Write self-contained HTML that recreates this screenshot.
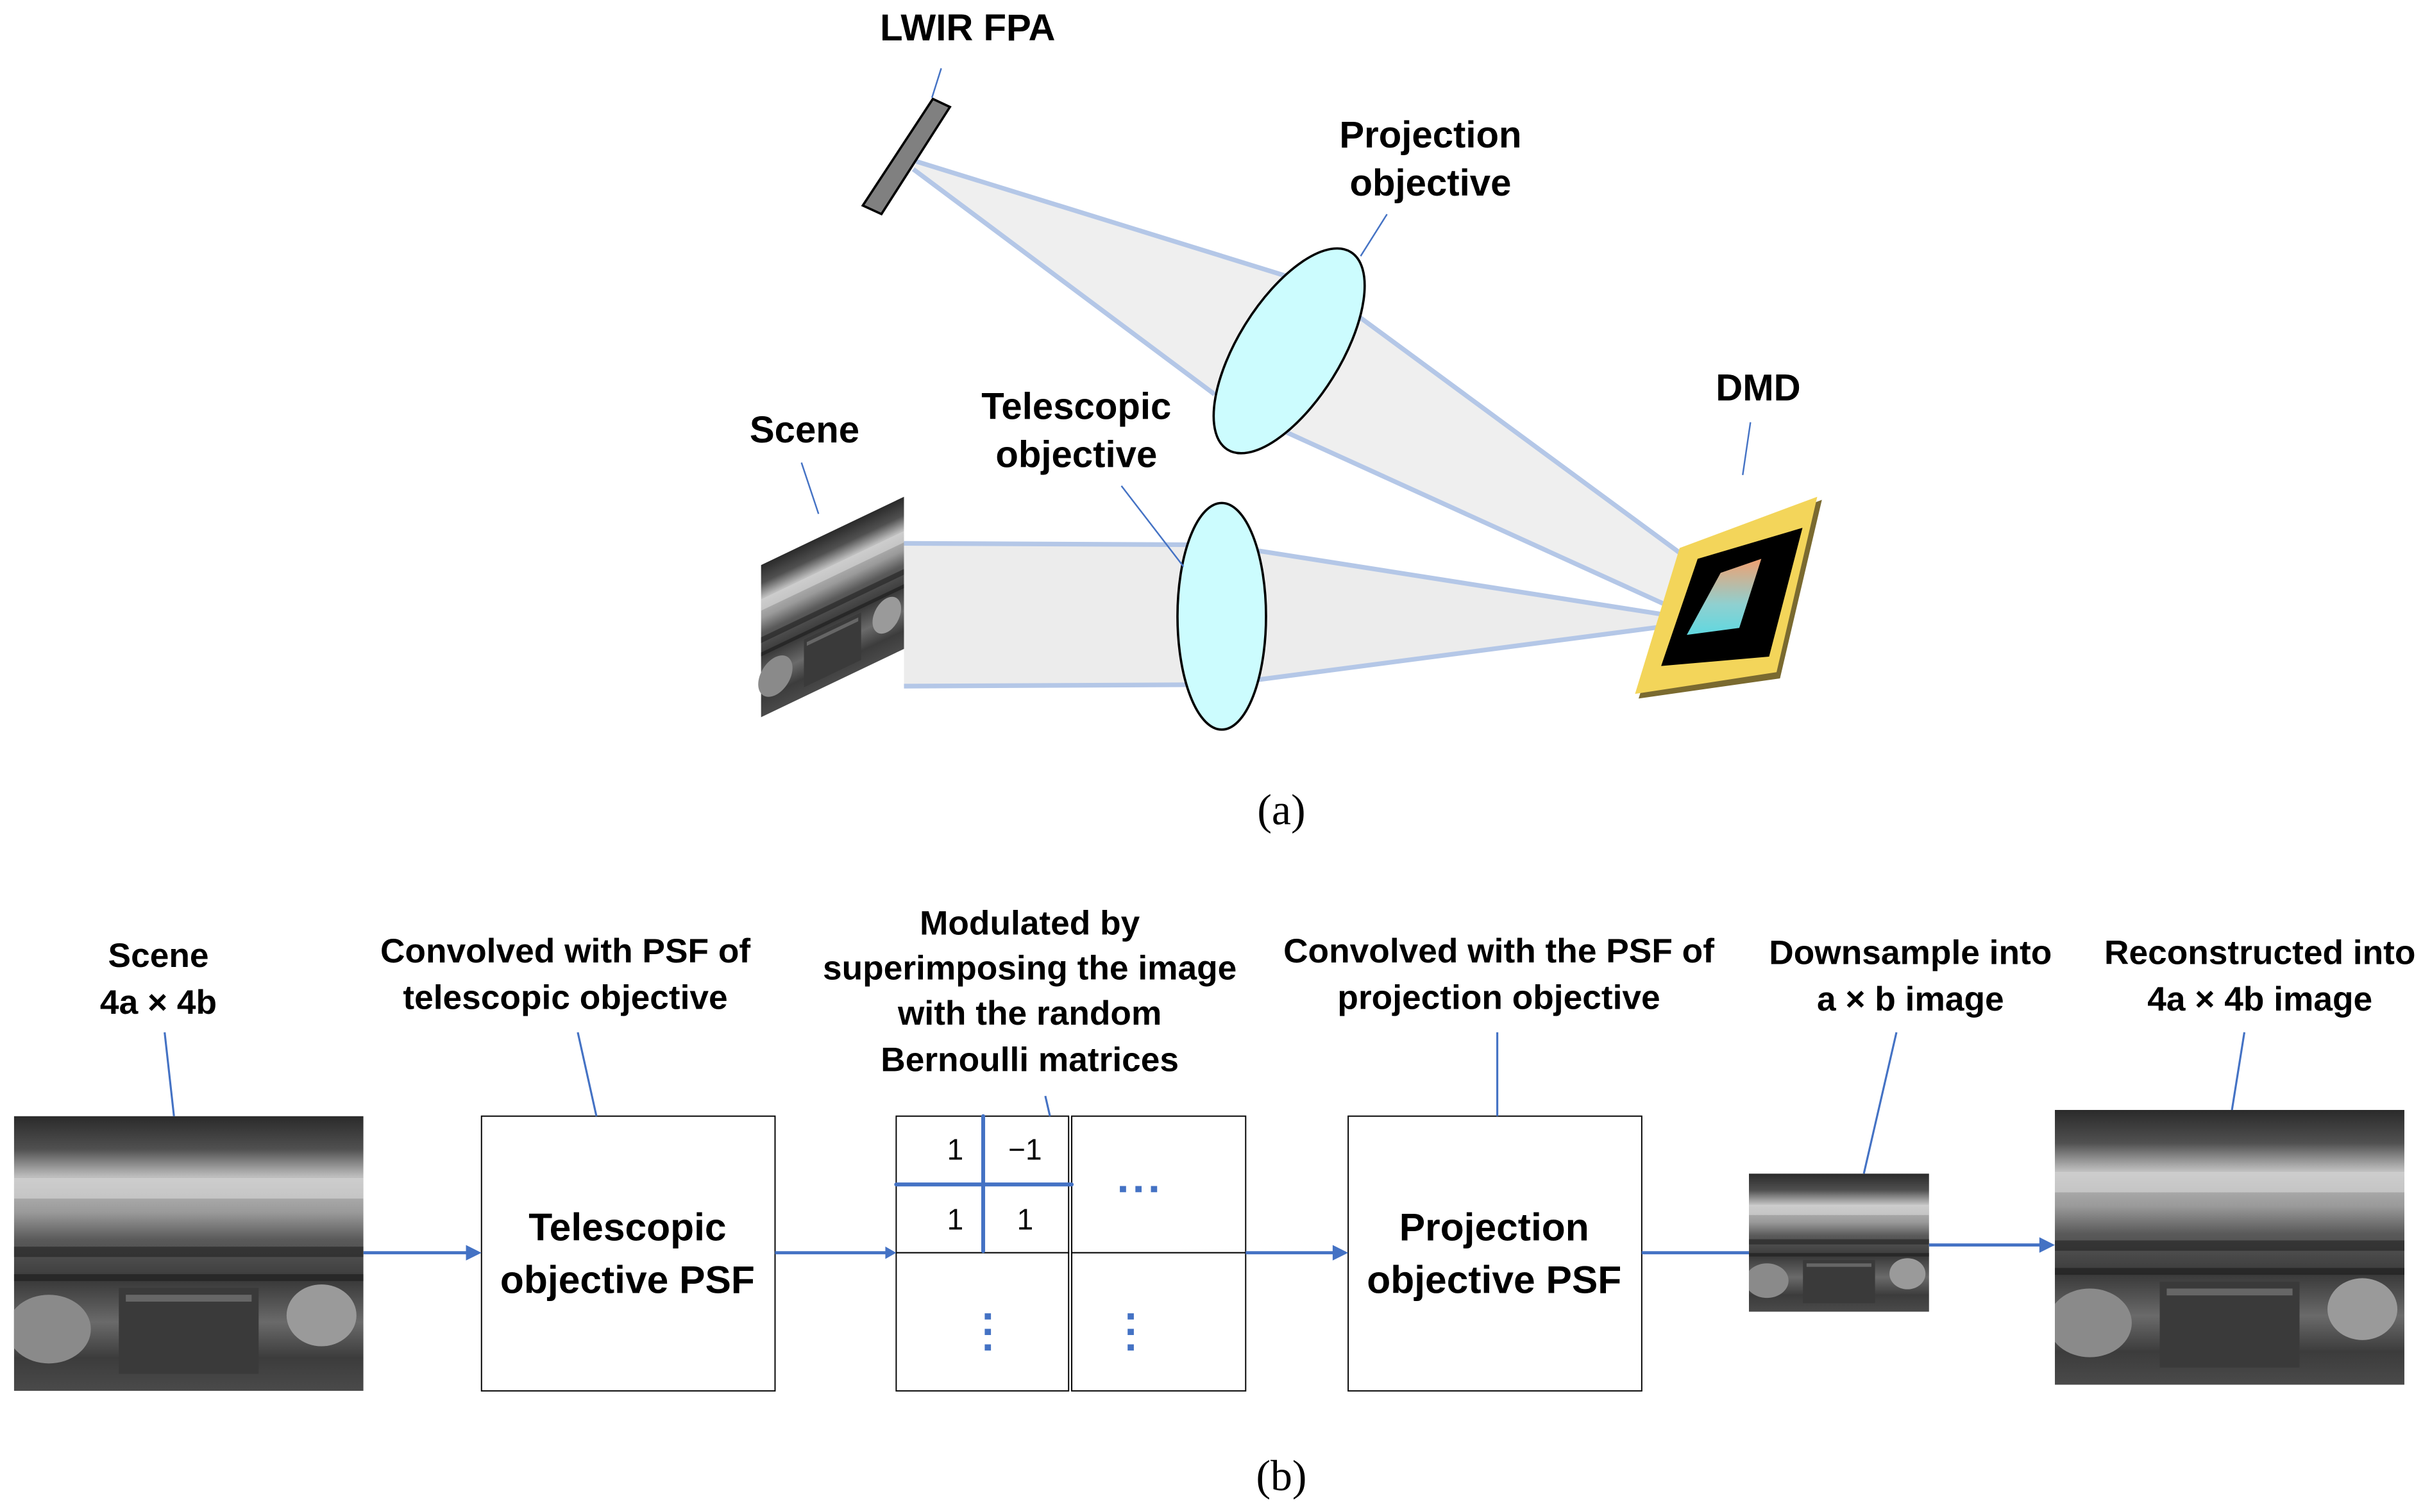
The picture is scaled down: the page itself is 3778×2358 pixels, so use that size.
<!DOCTYPE html>
<html><head><meta charset="utf-8"><style>
html,body{margin:0;padding:0;background:#fff;}
svg{display:block;}
text{font-family:"Liberation Sans",sans-serif;font-weight:bold;fill:#000;}
text.n{font-weight:normal;}
</style></head><body>
<svg width="3778" height="2358" viewBox="0 0 1560 974" preserveAspectRatio="none" xmlns="http://www.w3.org/2000/svg">
<defs>
<linearGradient id="img" x1="0" y1="0" x2="0" y2="1">
<stop offset="0" stop-color="#2a2a2a"/><stop offset="0.12" stop-color="#505050"/>
<stop offset="0.22" stop-color="#bdbdbd"/><stop offset="0.35" stop-color="#9a9a9a"/>
<stop offset="0.45" stop-color="#5a5a5a"/><stop offset="0.6" stop-color="#3a3a3a"/>
<stop offset="0.75" stop-color="#6a6a6a"/><stop offset="0.88" stop-color="#3c3c3c"/>
<stop offset="1" stop-color="#4a4a4a"/></linearGradient>
<linearGradient id="chip" x1="0" y1="0" x2="0" y2="1">
<stop offset="0" stop-color="#f0a070"/><stop offset="0.6" stop-color="#8fd0d0"/><stop offset="1" stop-color="#60d8e0"/></linearGradient>
<g id="photo">
<rect x="0" y="0" width="100" height="80" fill="url(#img)"/>
<rect x="0" y="38" width="100" height="3" fill="#222" opacity="0.6"/>
<rect x="0" y="46" width="100" height="2" fill="#1a1a1a" opacity="0.6"/>
<rect x="30" y="50" width="40" height="25" fill="#3a3a3a"/>
<rect x="32" y="52" width="36" height="2" fill="#666"/>
<ellipse cx="10" cy="62" rx="12" ry="10" fill="#8a8a8a"/>
<ellipse cx="88" cy="58" rx="10" ry="9" fill="#9a9a9a"/>
<rect x="0" y="18" width="100" height="6" fill="#d8d8d8" opacity="0.6"/>
</g>
</defs>

<!-- (a) beams -->
<polygon points="590,104 832,179 875,204 1103,372 1091,398 825,277 782,254 588,109" fill="#efefef"/>
<g stroke="#b4c7e7" stroke-width="3">
<line x1="590" y1="104" x2="832" y2="179"/>
<line x1="875" y1="204" x2="1103" y2="372"/>
<line x1="588" y1="109" x2="782" y2="254"/>
<line x1="825" y1="277" x2="1091" y2="398"/>
</g>
<polygon points="582,350 786,352 1091,398 1091,402 786,440 582,442" fill="#ececec"/>
<g stroke="#b4c7e7" stroke-width="3">
<line x1="582" y1="350" x2="786" y2="351"/>
<line x1="582" y1="442" x2="786" y2="441"/>
<line x1="786" y1="351" x2="1091" y2="399"/>
<line x1="786" y1="441" x2="1091" y2="401"/>
</g>

<!-- FPA -->
<polygon points="600.6,63.7 611.6,68.9 567.5,137.9 555.5,132.4" fill="#808080" stroke="#000" stroke-width="1.5"/>
<!-- scene -->
<g transform="matrix(0.92,-0.44,0,1.225,490,364)"><use href="#photo"/></g>
<!-- lenses -->
<ellipse cx="0" cy="0" rx="33" ry="75" fill="#ccfcfe" stroke="#000" stroke-width="1.5" transform="translate(830,226) rotate(32)"/>
<ellipse cx="786.6" cy="397" rx="28.5" ry="73" fill="#ccfcfe" stroke="#000" stroke-width="1.5"/>
<!-- DMD -->
<polygon points="1084,356 1173,322 1146,437 1055,450" fill="#7a6a30"/>
<polygon points="1081.4,353 1170,320 1143.8,433 1052.7,447" fill="#f3d55a"/>
<polygon points="1093,360 1160.5,340 1139,423 1069.5,429" fill="#000"/>
<polygon points="1107.8,369 1134,360 1119.8,404.5 1086,409" fill="url(#chip)"/>

<!-- (a) leaders -->
<g stroke="#4472c4" stroke-width="1">
<line x1="606" y1="44" x2="600" y2="63"/>
<line x1="893" y1="138" x2="876" y2="165"/>
<line x1="722" y1="313" x2="762" y2="365"/>
<line x1="516" y1="298" x2="527" y2="331"/>
<line x1="1127" y1="272" x2="1122" y2="306"/>
</g>
<g font-size="24" text-anchor="middle">
<text x="623" y="26">LWIR FPA</text>
<text x="921" y="95">Projection</text>
<text x="921" y="126">objective</text>
<text x="693" y="270">Telescopic</text>
<text x="693" y="301">objective</text>
<text x="518" y="285">Scene</text>
<text x="1132" y="258">DMD</text>
</g>
<text class="n" x="825" y="531" font-size="28" text-anchor="middle" style="font-family:'Liberation Serif',serif">(a)</text>

<!-- (b) -->
<svg x="9" y="719" width="225" height="177" viewBox="0 0 100 80" preserveAspectRatio="none"><use href="#photo"/></svg>
<svg x="1126" y="756" width="116" height="89" viewBox="0 0 100 80" preserveAspectRatio="none"><use href="#photo"/></svg>
<svg x="1323" y="715" width="225" height="177" viewBox="0 0 100 80" preserveAspectRatio="none"><use href="#photo"/></svg>

<rect x="310" y="719" width="189" height="177" fill="#fff" stroke="#000" stroke-width="0.8"/>
<rect x="868" y="719" width="189" height="177" fill="#fff" stroke="#000" stroke-width="0.8"/>
<g fill="#fff" stroke="#000" stroke-width="0.8">
<rect x="577" y="719" width="111" height="88"/><rect x="690" y="719" width="112" height="88"/>
<rect x="577" y="807" width="111" height="89"/><rect x="690" y="807" width="112" height="89"/>
</g>
<g stroke="#4472c4" stroke-width="2.5" stroke-linecap="round">
<line x1="633" y1="719" x2="633" y2="806"/>
<line x1="577" y1="763" x2="690" y2="763"/>
</g>
<g font-size="19" text-anchor="middle">
<text class="n" x="615" y="747">1</text><text class="n" x="660" y="747">−1</text>
<text class="n" x="615" y="792">1</text><text class="n" x="660" y="792">1</text>
</g>
<g fill="#4472c4">
<rect x="721" y="764" width="4" height="4"/><rect x="731" y="764" width="4" height="4"/><rect x="741" y="764" width="4" height="4"/>
<rect x="634" y="846" width="4" height="4"/><rect x="634" y="856" width="4" height="4"/><rect x="634" y="866" width="4" height="4"/>
<rect x="726" y="846" width="4" height="4"/><rect x="726" y="856" width="4" height="4"/><rect x="726" y="866" width="4" height="4"/>
</g>

<g stroke="#4472c4" stroke-width="2" fill="none">
<line x1="234" y1="807" x2="304" y2="807"/>
<line x1="499" y1="807" x2="572" y2="807"/>
<line x1="802" y1="807" x2="862" y2="807"/>
<line x1="1057" y1="807" x2="1126" y2="807"/>
<line x1="1242" y1="802" x2="1317" y2="802"/>
</g>
<g fill="#4472c4">
<polygon points="310,807 300,802 300,812"/>
<polygon points="577,807 570,803 570,811"/>
<polygon points="868,807 858,802 858,812"/>
<polygon points="1323,802 1313,797 1313,807"/>
</g>
<g stroke="#4472c4" stroke-width="1.3">
<line x1="106" y1="665" x2="112" y2="719"/>
<line x1="372" y1="665" x2="384" y2="719"/>
<line x1="673" y1="706" x2="676" y2="719"/>
<line x1="964" y1="665" x2="964" y2="719"/>
<line x1="1221" y1="665" x2="1200" y2="756"/>
<line x1="1445" y1="665" x2="1437" y2="715"/>
</g>
<g font-size="22" text-anchor="middle">
<text x="102" y="623">Scene</text><text x="102" y="653">4a × 4b</text>
<text x="364" y="620">Convolved with PSF of</text><text x="364" y="650">telescopic  objective</text>
<text x="663" y="602">Modulated by</text><text x="663" y="631">superimposing the image</text>
<text x="663" y="660">with the  random</text><text x="663" y="690">Bernoulli matrices</text>
<text x="965" y="620">Convolved with the PSF of</text><text x="965" y="650">projection objective</text>
<text x="1230" y="621">Downsample  into</text><text x="1230" y="651">a × b  image</text>
<text x="1455" y="621">Reconstructed into</text><text x="1455" y="651">4a × 4b  image</text>
</g>
<g font-size="25" text-anchor="middle">
<text x="404" y="799">Telescopic</text><text x="404" y="833">objective PSF</text>
<text x="962" y="799">Projection</text><text x="962" y="833">objective PSF</text>
</g>
<text class="n" x="825" y="960" font-size="28" text-anchor="middle" style="font-family:'Liberation Serif',serif">(b)</text>
</svg>
</body></html>
